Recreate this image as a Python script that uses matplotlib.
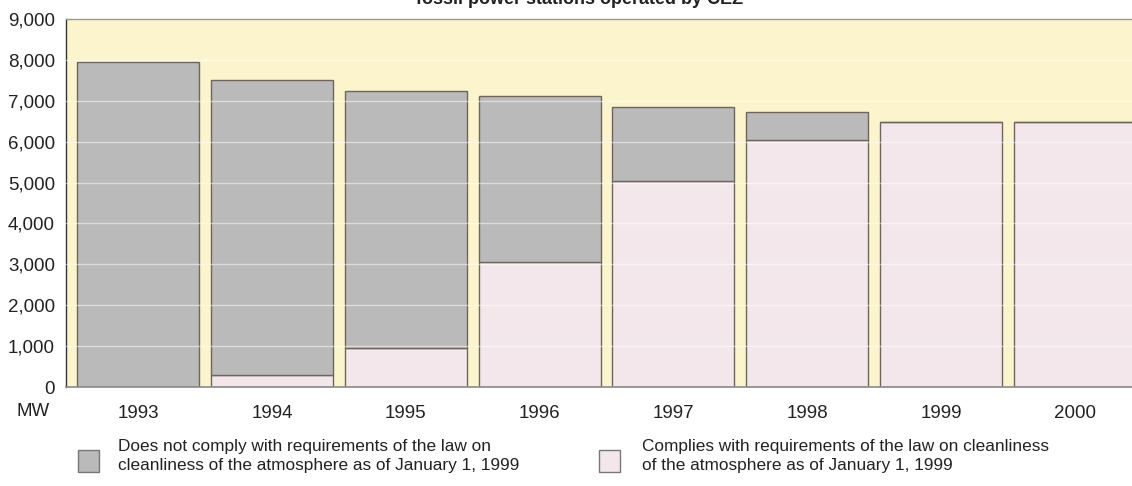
import matplotlib
matplotlib.use("Agg")
import matplotlib.pyplot as plt
from matplotlib.patches import Rectangle
import numpy as np

# Installed capacity (MW) by year, split by compliance with the clean-air law
years = ["1993", "1994", "1995", "1996", "1997", "1998", "1999", "2000"]
complying = [0, 290, 960, 3060, 5040, 6040, 6490, 6490]
non_complying = [7950, 7210, 6280, 4060, 1810, 680, 0, 0]

y_ticks = [0, 1000, 2000, 3000, 4000, 5000, 6000, 7000, 8000, 9000]
unit_label = "MW"
title_line = "fossil power stations operated by ČEZ"
legend_non = "Does not comply with requirements of the law on\ncleanliness of the atmosphere as of January 1, 1999"
legend_ok = "Complies with requirements of the law on cleanliness\nof the atmosphere as of January 1, 1999"

GREY = "#bababa"
PINK = "#f4e7eb"
BG = "#fbf4cc"
EDGE = "#6e665c"
TXT = "#222222"

plt.rcParams["font.family"] = ["Liberation Sans", "DejaVu Sans"]

W, H = 1132, 486
fig = plt.figure(figsize=(W / 100, H / 100), dpi=100)

# axes in pixel terms: left 66, top 19, bottom 387, running past the right edge
left_px, top_px, bot_px = 66, 19, 387
x_lo, x_hi = -0.54, 7.5
unit_px = 133.8
right_px = left_px + (x_hi - x_lo) * unit_px
ax = fig.add_axes([left_px / W, 1 - bot_px / H, (right_px - left_px) / W, (bot_px - top_px) / H])
ax.set_facecolor(BG)

x = np.arange(len(years))
width = 0.912
ax.bar(x, complying, width=width, color=PINK, edgecolor=EDGE, linewidth=1.0, zorder=2)
ax.bar(x, non_complying, width=width, bottom=complying, color=GREY, edgecolor=EDGE,
       linewidth=1.0, zorder=2)

# faint white rules at each thousand, visible across the bars
for v in y_ticks[1:-1]:
    ax.axhline(v, color="white", linewidth=1.0, alpha=0.5, zorder=3)

ax.set_xlim(x_lo, x_hi)
ax.set_ylim(0, 9000)
ax.set_yticks(y_ticks)
ax.set_yticklabels([f"{v:,}" for v in y_ticks], fontsize=13.5, color=TXT)
ax.set_xticks(x)
ax.set_xticklabels(years, fontsize=13.5, color=TXT)
ax.tick_params(axis="y", length=0, pad=8)
ax.tick_params(axis="x", length=0, pad=13)

for side in ["top", "right"]:
    ax.spines[side].set_color("#9a9a9a")
    ax.spines[side].set_linewidth(1.0)
ax.spines["bottom"].set_color("#8a8a8a")
ax.spines["bottom"].set_linewidth(1.2)
ax.spines["left"].set_color("#333333")
ax.spines["left"].set_linewidth(1.0)

fig.text(33 / W, 1 - 411 / H, unit_label, fontsize=13.5, color=TXT, ha="center", va="center")

# heading, partly above the top edge
fig.text(580 / W, 1 - 4 / H, title_line, fontsize=13, fontweight="bold", color=TXT,
         ha="center", va="baseline")

# legend drawn by hand: two swatches with two-line captions
def legend_entry(x0, color, text, tx):
    fig.patches.append(Rectangle((x0 / W, 1 - 472 / H), 21 / W, 22 / H, transform=fig.transFigure,
                                 facecolor=color, edgecolor="#777777", linewidth=1.0))
    fig.text(tx / W, 1 - 456 / H, text, fontsize=12.4, color=TXT, ha="left", va="center",
             linespacing=1.38)

legend_entry(78, GREY, legend_non, 118)
legend_entry(599, PINK, legend_ok, 642)

fig.savefig("out.png", dpi=100, facecolor="white")
